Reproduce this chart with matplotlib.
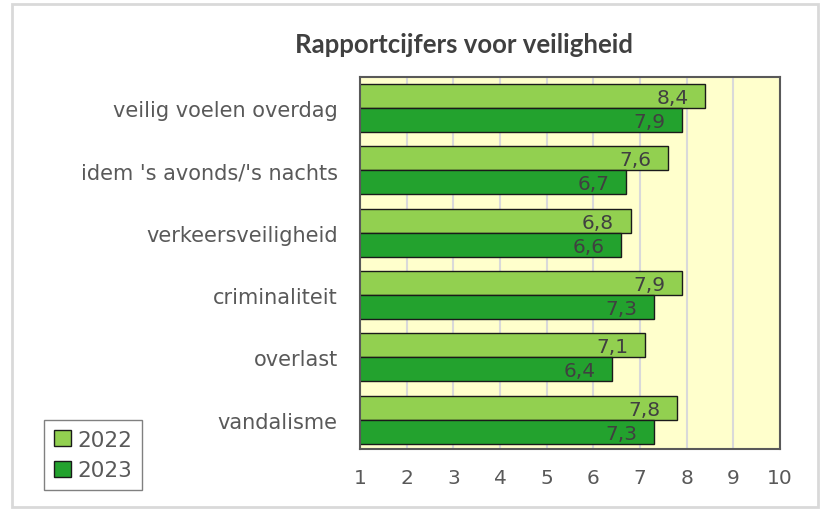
import numpy as np
import matplotlib
matplotlib.use('Agg')
import matplotlib.pyplot as plt
from matplotlib.patches import Rectangle

categories = ['veilig voelen overdag', "idem 's avonds/'s nachts", 'verkeersveiligheid',
              'criminaliteit', 'overlast', 'vandalisme']
cijfers_2022 = [8.4, 7.6, 6.8, 7.9, 7.1, 7.8]
cijfers_2023 = [7.9, 6.7, 6.6, 7.3, 6.4, 7.3]
ticks_x = list(range(1, 11))

GREEN_LIGHT = '#92D050'
GREEN_DARK = '#23A22E'
TEXT = '#595959'

fig = plt.figure(figsize=(8.21, 5.10), dpi=100)
fig.patch.set_facecolor('white')
ax = fig.add_axes([360 / 821, 1 - 450 / 510, 420 / 821, 372 / 510])
ax.set_facecolor('#FFFFCC')

y = np.arange(len(categories))
h = 0.385
b1 = ax.barh(y - h / 2, cijfers_2022, height=h, color=GREEN_LIGHT, edgecolor='#1a1a1a',
             linewidth=1.0, label='2022', zorder=3)
b2 = ax.barh(y + h / 2, cijfers_2023, height=h, color=GREEN_DARK, edgecolor='#1a1a1a',
             linewidth=1.0, label='2023', zorder=3)

for bars, vals in [(b1, cijfers_2022), (b2, cijfers_2023)]:
    for bar, v in zip(bars, vals):
        ax.annotate(f'{v:.1f}'.replace('.', ','), (v, bar.get_y() + bar.get_height() / 2),
                    xytext=(-12, -1), textcoords='offset points', ha='right', va='center',
                    fontsize=14.5, color='#404040', zorder=4)

ax.set_xlim(1, 10)
ax.set_ylim(5.47, -0.5)
ax.set_xticks(ticks_x)
ax.set_xticklabels([str(t) for t in ticks_x], fontsize=14.5, color=TEXT)
ax.set_yticks(y)
ax.set_yticklabels(categories, fontsize=15, color=TEXT)
ax.tick_params(axis='both', length=0)
ax.tick_params(axis='x', pad=14)
ax.tick_params(axis='y', pad=16)
ax.grid(axis='x', color='#D9D9D9', linewidth=1.5, zorder=1)
ax.set_axisbelow(True)
for s in ax.spines.values():
    s.set_color('#595959')
    s.set_linewidth(1.5)
    s.set_zorder(5)

fig.text(464 / 821, 1 - 45 / 510, 'Rapportcijfers voor veiligheid', ha='center', va='center',
         fontsize=18.5, fontweight='bold', family=['Lato', 'DejaVu Sans'], color='#404040')

leg = fig.legend(handles=[b1, b2], loc='lower left', bbox_to_anchor=(44 / 821, 19 / 510),
                 fontsize=15.5, frameon=True, fancybox=False, framealpha=1, edgecolor='#808080',
                 handlelength=0.8, handleheight=0.8, handletextpad=0.3, borderpad=0.45,
                 labelspacing=0.5, labelcolor=TEXT, borderaxespad=0)
leg.get_frame().set_linewidth(1.0)

fig.patches.append(Rectangle((12 / 821, 2 / 510), 806 / 821, 503 / 510, transform=fig.transFigure,
                             fill=False, edgecolor='#D9D9D9', linewidth=2))

fig.savefig('out.png', dpi=100)
